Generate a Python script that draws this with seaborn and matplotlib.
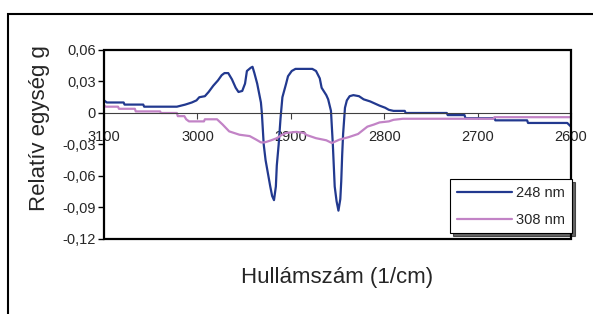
# Spektrum: relativ egyseg vs hullamszam, 248 nm es 308 nm
import numpy as np
import pandas as pd
import matplotlib
matplotlib.use("Agg")
import matplotlib.pyplot as plt
from matplotlib.patches import Rectangle
import seaborn as sns

# adatok (leolvasva a kepről)
wn_248 = [3100, 3097, 3079, 3078, 3058, 3057, 3022, 3013, 3006, 3001, 2998, 2992,
          2988, 2983, 2978, 2974, 2971, 2967, 2963, 2959, 2956, 2952, 2949, 2947,
          2943, 2941, 2939, 2936, 2932, 2931, 2929, 2927, 2924, 2922, 2920, 2918,
          2916, 2915, 2913, 2911, 2909, 2905, 2903, 2899, 2895, 2877, 2873, 2869,
          2867, 2862, 2860, 2857, 2855, 2853, 2851, 2849, 2847, 2846, 2845, 2844,
          2842, 2840, 2837, 2833, 2827, 2822, 2815, 2810, 2805, 2799, 2795, 2790,
          2778, 2777, 2733, 2732, 2714, 2713, 2682, 2681, 2647, 2646, 2604, 2600]
val_248 = [0.012, 0.010, 0.010, 0.008, 0.008, 0.006, 0.006, 0.008, 0.010, 0.012, 0.015, 0.016,
           0.020, 0.026, 0.031, 0.036, 0.038, 0.038, 0.032, 0.024, 0.020, 0.021, 0.028, 0.040,
           0.043, 0.044, 0.038, 0.028, 0.010, 0.0, -0.030, -0.045, -0.060, -0.070, -0.079, -0.083,
           -0.070, -0.050, -0.030, -0.005, 0.015, 0.028, 0.035, 0.040, 0.042, 0.042, 0.040, 0.033,
           0.024, 0.017, 0.013, 0.002, -0.030, -0.070, -0.084, -0.093, -0.082, -0.065, -0.040, -0.020,
           0.005, 0.012, 0.016, 0.017, 0.016, 0.013, 0.011, 0.009, 0.007, 0.005, 0.003, 0.002,
           0.002, 0.0, 0.0, -0.002, -0.002, -0.005, -0.005, -0.007, -0.007, -0.0095, -0.0095, -0.013]

wn_308 = [3100, 3098, 3085, 3084, 3067, 3066, 3040, 3039, 3022, 3021, 3014, 3012,
          3009, 2993, 2992, 2979, 2973, 2966, 2955, 2944, 2937, 2932, 2928, 2921,
          2915, 2910, 2905, 2894, 2886, 2883, 2873, 2862, 2856, 2848, 2838, 2828,
          2823, 2818, 2811, 2805, 2795, 2790, 2780, 2683, 2682, 2600]
val_308 = [0.007, 0.006, 0.006, 0.004, 0.004, 0.0015, 0.0015, 0.0, 0.0, -0.003, -0.003, -0.006,
           -0.008, -0.008, -0.006, -0.006, -0.011, -0.0175, -0.0207, -0.022, -0.0254, -0.028, -0.028, -0.026,
           -0.024, -0.021, -0.019, -0.018, -0.019, -0.021, -0.024, -0.026, -0.0286, -0.0254, -0.023, -0.020,
           -0.0165, -0.013, -0.011, -0.009, -0.008, -0.0065, -0.0055, -0.0055, -0.004, -0.004]

series = ["248 nm", "308 nm"]
colors = ["#22398f", "#c283c6"]

x_ticks = [3100, 3000, 2900, 2800, 2700, 2600]
y_ticks = [0.06, 0.03, 0, -0.03, -0.06, -0.09, -0.12]
y_labels = ["0,06", "0,03", "0", "-0,03", "-0,06", "-0,09", "-0,12"]

df = pd.concat([
    pd.DataFrame({"wn": wn_248, "val": val_248, "sor": series[0]}),
    pd.DataFrame({"wn": wn_308, "val": val_308, "sor": series[1]}),
])

sns.set_style("white")
plt.rcParams["font.family"] = ["Liberation Sans", "DejaVu Sans"]

fig = plt.figure(figsize=(5.93, 3.14), dpi=100)
ax = fig.add_axes([0.1754, 0.2389, 0.7875, 0.6019])

sns.lineplot(data=df, x="wn", y="val", hue="sor", palette=colors,
             linewidth=1.6, ax=ax, legend=False)

ax.set_xlim(3100, 2600)
ax.set_ylim(-0.12, 0.06)

# x tengely a nullanal
for s in ["left", "top", "right"]:
    ax.spines[s].set_visible(False)
ax.spines["bottom"].set_position(("data", 0))
ax.spines["bottom"].set_color("#404040")
ax.spines["bottom"].set_linewidth(0.8)
ax.add_patch(Rectangle((0, 0), 1, 1, transform=ax.transAxes, fill=False,
                       ec="black", lw=1.6, clip_on=False, zorder=5))

ax.set_xticks(x_ticks)
ax.set_xticklabels([str(t) for t in x_ticks], fontsize=10.5)
ax.set_yticks(y_ticks)
ax.set_yticklabels(y_labels, fontsize=10.5)
ax.tick_params(axis="x", direction="out", length=4, width=0.8, color="#404040", pad=8, bottom=True)
ax.tick_params(axis="y", direction="out", length=4, width=1, color="black", pad=2, left=True)

ax.set_xlabel("Hullámszám (1/cm)", fontsize=16)
ax.set_ylabel("Relatív egység g", fontsize=16)
ax.xaxis.set_label_coords(0.5, -0.15)
ax.yaxis.set_label_coords(-0.116, 0.587)

handles = [plt.Line2D([], [], color=c, lw=1.6) for c in colors]
leg = ax.legend(handles, series, loc="lower right", bbox_to_anchor=(1.002, 0.03),
                fontsize=10.5, frameon=True, fancybox=False, handlelength=3.8,
                handletextpad=0.3, borderpad=0.45, borderaxespad=0, labelspacing=0.9,
                shadow={"color": "black", "alpha": 0.6})
leg.get_frame().set_edgecolor("black")
leg.get_frame().set_linewidth(0.8)
leg.set_zorder(6)

# kulso keret (jobb es also oldal kilog a kepbol)
fig.patches.append(Rectangle((8 / 593, -0.2), 1.2, 1.2 - 14 / 314,
                             transform=fig.transFigure, fill=False, ec="black", lw=1.5))

fig.savefig("out.png", dpi=100)
